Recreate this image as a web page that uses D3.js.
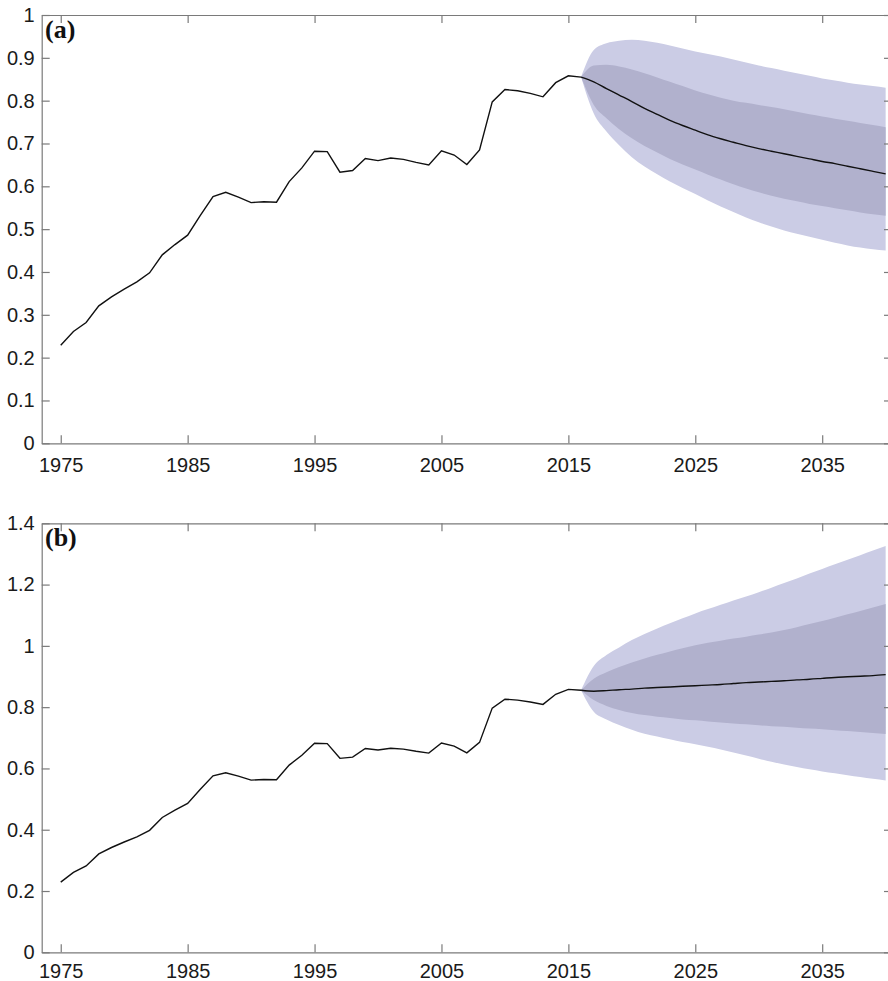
<!DOCTYPE html>
<html>
<head>
<meta charset="utf-8">
<script src="https://cdn.jsdelivr.net/npm/d3@7"></script>
<style>
  body { margin: 0; background: #fff; }
  .axis text { font-family: "Liberation Sans", Arial, sans-serif; font-size: 20px; fill: #1a1a1a; }
  .axis path, .axis line { stroke: #7a7a7a; stroke-width: 1.2; }
  .plabel { font-family: "Liberation Serif", "Times New Roman", serif; font-weight: bold; font-size: 26px; fill: #111; }
</style>
</head>
<body>
<script>
// observed series 1975-2016
var histYears = d3.range(1975, 2017);
var histValues = [0.229, 0.261, 0.282, 0.321, 0.342, 0.360, 0.377, 0.398, 0.440, 0.464,
                  0.486, 0.532, 0.576, 0.586, 0.575, 0.562, 0.564, 0.563, 0.611, 0.643,
                  0.682, 0.681, 0.633, 0.637, 0.665, 0.660, 0.666, 0.663, 0.656, 0.650,
                  0.683, 0.673, 0.651, 0.685, 0.797, 0.826, 0.823, 0.817, 0.809, 0.842,
                  0.858, 0.855];

// forecast 2016-2040
var fcYears = d3.range(2016, 2041);

// panel (a)
var aMid  = [0.855, 0.844, 0.828, 0.813, 0.798, 0.782, 0.768, 0.754, 0.742, 0.731, 0.720, 0.711, 0.703,
             0.695, 0.688, 0.682, 0.676, 0.670, 0.664, 0.658, 0.653, 0.647, 0.641, 0.635, 0.629];
var aHi95 = [0.855, 0.918, 0.934, 0.940, 0.942, 0.940, 0.935, 0.929, 0.922, 0.915, 0.909, 0.903, 0.896,
             0.889, 0.882, 0.876, 0.870, 0.864, 0.858, 0.852, 0.847, 0.842, 0.838, 0.834, 0.830];
var aHi68 = [0.855, 0.882, 0.884, 0.880, 0.873, 0.864, 0.854, 0.844, 0.834, 0.824, 0.815, 0.807, 0.800,
             0.795, 0.790, 0.785, 0.780, 0.774, 0.768, 0.763, 0.758, 0.753, 0.748, 0.743, 0.738];
var aLo68 = [0.855, 0.790, 0.759, 0.733, 0.712, 0.694, 0.679, 0.664, 0.651, 0.639, 0.627, 0.616, 0.605,
             0.595, 0.586, 0.578, 0.571, 0.565, 0.559, 0.554, 0.549, 0.544, 0.539, 0.535, 0.531];
var aLo95 = [0.855, 0.770, 0.728, 0.696, 0.668, 0.646, 0.628, 0.611, 0.596, 0.582, 0.567, 0.553, 0.540,
             0.527, 0.516, 0.506, 0.497, 0.489, 0.482, 0.475, 0.468, 0.462, 0.457, 0.453, 0.450];

// panel (b)
var bMid  = [0.855, 0.852, 0.854, 0.857, 0.859, 0.862, 0.864, 0.866, 0.868, 0.870, 0.872, 0.874, 0.877,
             0.880, 0.882, 0.884, 0.886, 0.889, 0.891, 0.894, 0.897, 0.899, 0.901, 0.903, 0.906];
var bHi95 = [0.855, 0.934, 0.970, 0.995, 1.019, 1.039, 1.057, 1.074, 1.090, 1.106, 1.120, 1.134, 1.148,
             1.161, 1.175, 1.190, 1.205, 1.220, 1.236, 1.251, 1.266, 1.281, 1.296, 1.311, 1.326];
var bHi68 = [0.855, 0.893, 0.914, 0.931, 0.946, 0.959, 0.971, 0.982, 0.992, 1.002, 1.010, 1.017, 1.024,
             1.030, 1.037, 1.044, 1.052, 1.061, 1.071, 1.081, 1.092, 1.103, 1.114, 1.125, 1.137];
var bLo68 = [0.855, 0.823, 0.804, 0.791, 0.781, 0.774, 0.769, 0.765, 0.760, 0.757, 0.753, 0.750, 0.747,
             0.744, 0.741, 0.738, 0.736, 0.733, 0.730, 0.728, 0.725, 0.722, 0.719, 0.716, 0.712];
var bLo95 = [0.855, 0.785, 0.760, 0.742, 0.726, 0.713, 0.704, 0.695, 0.686, 0.679, 0.671, 0.662, 0.652,
             0.642, 0.632, 0.622, 0.613, 0.605, 0.597, 0.590, 0.584, 0.578, 0.572, 0.566, 0.561];

// ticks
var xTicks = [1975, 1985, 1995, 2005, 2015, 2025, 2035];
var yTicksA = [0, 0.1, 0.2, 0.3, 0.4, 0.5, 0.6, 0.7, 0.8, 0.9, 1];
var yTicksB = [0, 0.2, 0.4, 0.6, 0.8, 1, 1.2, 1.4];

var width = 888, height = 981;
var svg = d3.select("body").append("svg")
    .attr("width", width)
    .attr("height", height);

var left = 41.7, right = 892;
var x = d3.scaleLinear().domain([1973.5, 2040.5]).range([left, right]);

function drawPanel(top, bottom, yMax, yTicks, mid, hi95, hi68, lo68, lo95, label, labPad, id) {
    var y = d3.scaleLinear().domain([0, yMax]).range([bottom, top]);
    var g = svg.append("g");

    g.append("clipPath").attr("id", id)
        .append("rect").attr("x", left).attr("y", top)
        .attr("width", right - left).attr("height", bottom - top);

    var plot = g.append("g").attr("clip-path", "url(#" + id + ")");

    var band = function (lo, hi) {
        return d3.area()
            .curve(d3.curveMonotoneX)
            .x(function (d, i) { return x(fcYears[i]); })
            .y0(function (d, i) { return y(lo[i]); })
            .y1(function (d, i) { return y(hi[i]); });
    };

    plot.append("path").datum(fcYears)
        .attr("d", band(lo95, hi95))
        .attr("fill", "#cbcce5");
    plot.append("path").datum(fcYears)
        .attr("d", band(lo68, hi68))
        .attr("fill", "#b1b1cd");

    var line = d3.line()
        .x(function (d) { return x(d[0]); })
        .y(function (d) { return y(d[1]); });

    plot.append("path")
        .datum(histYears.map(function (yr, i) { return [yr, histValues[i]]; }))
        .attr("d", line).attr("fill", "none")
        .attr("stroke", "#111").attr("stroke-width", 1.4);
    plot.append("path")
        .datum(fcYears.map(function (yr, i) { return [yr, mid[i]]; }))
        .attr("d", line.curve(d3.curveMonotoneX)).attr("fill", "none")
        .attr("stroke", "#111").attr("stroke-width", 1.4);

    // axes, ticks pointing inward
    g.append("g").attr("class", "axis")
        .attr("transform", "translate(0," + bottom + ")")
        .call(d3.axisBottom(x).tickValues(xTicks).tickFormat(d3.format("d"))
            .tickSize(-8).tickSizeOuter(0).tickPadding(labPad));
    g.append("g").attr("class", "axis")
        .attr("transform", "translate(0," + top + ")")
        .call(d3.axisTop(x).tickValues(xTicks).tickFormat("")
            .tickSize(-8).tickSizeOuter(0));
    g.append("g").attr("class", "axis")
        .attr("transform", "translate(" + left + ",0)")
        .call(d3.axisLeft(y).tickValues(yTicks).tickFormat(d3.format("~g"))
            .tickSize(-8).tickSizeOuter(0).tickPadding(7));
    g.append("g").attr("class", "axis")
        .attr("transform", "translate(" + right + ",0)")
        .call(d3.axisRight(y).tickValues(yTicks).tickFormat("")
            .tickSize(-8).tickSizeOuter(0));

    g.append("text").attr("class", "plabel")
        .attr("x", 45).attr("y", top + 23)
        .text(label);
}

drawPanel(15, 443.3, 1, yTicksA, aMid, aHi95, aHi68, aLo68, aLo95, "(a)", 15, "clipA");
drawPanel(523.3, 952.3, 1.4, yTicksB, bMid, bHi95, bHi68, bLo68, bLo95, "(b)", 12, "clipB");
</script>
</body>
</html>
